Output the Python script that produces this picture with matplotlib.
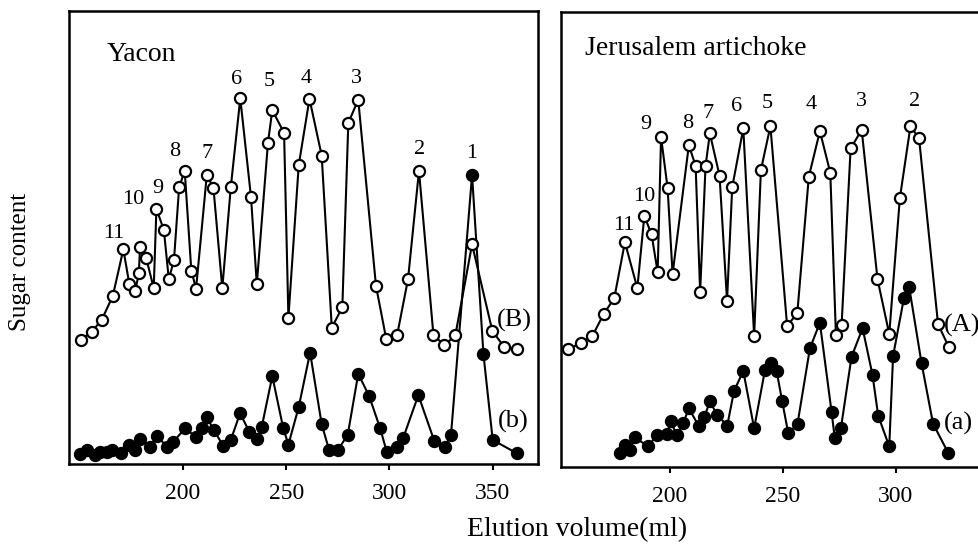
import numpy as np
import matplotlib
matplotlib.use("Agg")
import matplotlib.pyplot as plt

plt.rcParams['font.family'] = ['Liberation Serif', 'DejaVu Serif']

# Yacon, open circles (B)
yacon_B_x = [150.6, 155.9, 160.7, 166.1, 171.2, 174.1, 177.0, 178.7, 179.3, 182.3,
             185.9, 187.2, 190.8, 193.2, 195.7, 198.2, 200.9, 204.1, 206.4, 211.6,
             214.8, 219.1, 223.2, 227.8, 233.0, 235.8, 241.2, 243.3, 249.0, 251.1,
             256.1, 261.3, 267.2, 272.1, 277.2, 280.1, 284.9, 293.5, 298.5, 303.7,
             309.0, 314.3, 321.3, 326.6, 331.9, 340.0, 349.8, 355.6, 361.6]
yacon_B_y = [27.4, 29.2, 31.8, 37.1, 47.4, 39.7, 38.2, 42.2, 48.0, 45.4,
             38.8, 56.3, 51.7, 40.8, 45.0, 61.1, 64.7, 42.7, 38.7, 63.8,
             61.0, 38.8, 61.1, 80.7, 58.9, 39.7, 70.9, 78.1, 73.1, 32.3,
             66.0, 80.6, 68.1, 30.1, 34.6, 75.3, 80.4, 39.3, 27.5, 28.4,
             40.8, 64.7, 28.5, 26.2, 28.4, 48.5, 29.4, 25.8, 25.3]

# Yacon, filled circles (b)
yacon_b_x = [150.2, 153.5, 157.5, 159.9, 163.2, 165.9, 170.1, 174.1, 176.9, 179.3,
             184.1, 187.7, 192.2, 195.4, 201.1, 206.2, 209.4, 211.6, 215.1, 219.6,
             223.2, 227.7, 232.2, 235.8, 238.2, 243.3, 248.6, 251.1, 256.1, 261.6,
             267.2, 270.8, 275.0, 279.8, 284.9, 290.1, 295.5, 298.7, 303.8, 306.7,
             314.0, 321.7, 326.9, 329.8, 340.0, 345.5, 350.0, 361.6]
yacon_b_y = [2.2, 3.1, 2.0, 2.7, 2.7, 3.2, 2.5, 4.2, 3.1, 5.5,
             3.8, 6.2, 3.8, 4.9, 7.9, 6.0, 7.9, 10.3, 7.4, 4.0,
             5.3, 11.2, 7.1, 5.5, 8.2, 19.4, 7.9, 4.3, 12.6, 24.6,
             8.8, 3.1, 3.1, 6.4, 19.9, 15.1, 7.9, 2.7, 3.8, 5.8,
             15.2, 5.1, 3.8, 6.4, 63.8, 24.3, 5.3, 2.4]

# Jerusalem artichoke, open circles (A)
ja_A_x = [155.1, 160.8, 165.8, 170.8, 175.5, 180.2, 185.7, 188.8, 192.0, 194.7,
          196.2, 199.1, 201.3, 208.5, 211.5, 213.5, 215.9, 217.8, 222.1, 225.4,
          227.7, 232.6, 237.4, 240.4, 244.6, 252.0, 256.5, 261.6, 266.5, 271.1,
          273.6, 276.1, 280.1, 285.0, 292.0, 297.2, 301.9, 306.6, 310.4, 318.8,
          323.6]
ja_A_y = [25.9, 27.2, 28.8, 33.6, 37.1, 49.4, 39.3, 55.2, 51.1, 42.8,
          72.5, 61.3, 42.4, 70.7, 66.2, 38.5, 66.2, 73.3, 64.0, 36.5,
          61.5, 74.4, 28.8, 65.3, 74.9, 31.0, 33.8, 63.8, 73.8, 64.7,
          29.0, 31.1, 70.0, 74.1, 41.3, 29.2, 59.1, 74.9, 72.2, 31.4,
          26.3]

# Jerusalem artichoke, filled circles (a)
ja_a_x = [178.0, 180.2, 182.4, 184.6, 190.5, 194.2, 198.7, 200.6, 203.1, 206.0,
          208.5, 213.0, 215.3, 217.8, 221.1, 225.5, 228.5, 232.6, 237.4, 242.2,
          244.7, 247.3, 249.8, 252.5, 256.6, 262.1, 266.5, 271.7, 273.1, 275.8,
          280.5, 285.4, 289.8, 292.3, 297.2, 298.9, 303.7, 306.0, 311.5, 316.6,
          323.3]
ja_a_y = [3.0, 4.8, 3.7, 6.5, 4.5, 7.0, 7.3, 10.0, 7.0, 9.6,
          12.9, 8.9, 10.9, 14.4, 11.4, 9.1, 16.7, 21.1, 8.5, 21.3,
          22.8, 21.2, 14.5, 7.4, 9.5, 26.1, 31.7, 12.0, 6.3, 8.5,
          24.2, 30.5, 20.2, 11.3, 4.5, 24.4, 37.1, 39.6, 22.8, 9.5,
          3.1]

peak_names = ['11', '10', '9', '8', '7', '6', '5', '4', '3', '2', '1']
yacon_label_x = [166.8, 176.0, 188.1, 196.2, 211.6, 226.1, 241.9, 259.6, 284.2, 314.5, 339.8]
yacon_label_y = [50.9, 58.3, 60.9, 68.9, 68.6, 84.9, 84.4, 85.1, 85.1, 69.5, 68.6]
ja_names = ['11', '10', '9', '8', '7', '6', '5', '4', '3', '2']
ja_label_x = [179.5, 188.8, 189.4, 208.2, 217.1, 229.6, 243.1, 262.8, 285.0, 308.5]
ja_label_y = [53.0, 59.4, 75.2, 75.5, 77.7, 79.3, 79.9, 79.6, 80.3, 80.3]

fig = plt.figure(figsize=(9.79, 5.47), dpi=100)
ax1 = fig.add_axes([0.0705, 0.1517, 0.479, 0.8282])
ax2 = fig.add_axes([0.573, 0.1463, 0.4484, 0.8318])

line_kw = dict(color='black', lw=1.5, ms=8, mew=1.6, zorder=3)


def style(ax, xlim, ticks):
    ax.set_xlim(*xlim)
    ax.set_ylim(0, 100)
    ax.set_yticks([])
    ax.set_xticks(ticks)
    ax.tick_params(axis='x', direction='out', length=4, width=1.5,
                   labelsize=17, pad=10)
    for s in ax.spines.values():
        s.set_linewidth(1.8)


# Yacon panel
ax1.plot(yacon_b_x, yacon_b_y, marker='o', mfc='black', mec='black', **line_kw)
ax1.plot(yacon_B_x, yacon_B_y, marker='o', mfc='white', mec='black', **line_kw)
for name, x, y in zip(peak_names, yacon_label_x, yacon_label_y):
    ax1.text(x, y, name, ha='center', va='center', fontsize=16)
ax1.text(360.3, 31.8, '(B)', ha='center', va='center', fontsize=19, zorder=4)
ax1.text(359.9, 9.3, '(b)', ha='center', va='center', fontsize=19, zorder=4)
ax1.text(0.08, 0.905, 'Yacon', transform=ax1.transAxes, fontsize=20,
         ha='left', va='center')
style(ax1, (144.9, 371.9), [200, 250, 300, 350])

# Jerusalem artichoke panel
ax2.plot(ja_a_x, ja_a_y, marker='o', mfc='black', mec='black', **line_kw)
ax2.plot(ja_A_x, ja_A_y, marker='o', mfc='white', mec='black', **line_kw)
for name, x, y in zip(ja_names, ja_label_x, ja_label_y):
    ax2.text(x, y, name, ha='center', va='center', fontsize=16)
ax2.text(321.5, 31.2, '(A)', ha='left', va='center', fontsize=19, zorder=4)
ax2.text(321.5, 9.6, '(a)', ha='left', va='center', fontsize=19, zorder=4)
ax2.text(0.055, 0.92, 'Jerusalem artichoke', transform=ax2.transAxes,
         fontsize=20, ha='left', va='center')
style(ax2, (151.9, 346.2), [200, 250, 300])

fig.text(577 / 979, 1 - 530 / 547, 'Elution volume(ml)', ha='center',
         va='center', fontsize=20)
fig.text(20 / 979, 1 - 262 / 547, 'Sugar content', ha='center', va='center',
         rotation=90, fontsize=18)

fig.savefig('out.png', dpi=100)
